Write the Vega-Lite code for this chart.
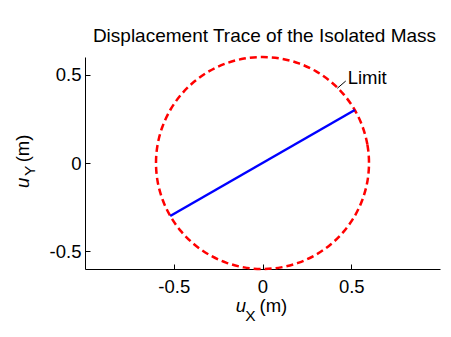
{
  "$schema": "https://vega.github.io/schema/vega-lite/v6.json",
  "width": 355,
  "height": 212,
  "autosize": {"type": "none"},
  "padding": {"left": 85, "top": 57, "right": 11, "bottom": 68},
  "title": {"text": "Displacement Trace of the Isolated Mass", "fontSize": 19, "font": "Liberation Sans", "fontWeight": "normal", "color": "black", "anchor": "middle", "baseline": "alphabetic", "offset": -9, "dx": 2},
  "config": {
    "view": {"stroke": null},
    "font": "Liberation Sans",
    "axis": {"grid": false, "domainColor": "black", "domainWidth": 1, "tickColor": "black", "tickWidth": 1, "tickSize": -5, "labelFontSize": 18.5, "labelColor": "black", "labelFont": "Liberation Sans"},
    "axisX": {"labelPadding": 13},
    "axisY": {"labelPadding": 9},
    "text": {"font": "Liberation Sans", "color": "black"}
  },
  "datasets": {
    "circle": [
      {"angle": 0, "ux": 0.6, "uy": 0},
      {"angle": 10, "ux": 0.5909, "uy": 0.1042},
      {"angle": 20, "ux": 0.5638, "uy": 0.2052},
      {"angle": 30, "ux": 0.5196, "uy": 0.3},
      {"angle": 40, "ux": 0.4596, "uy": 0.3857},
      {"angle": 50, "ux": 0.3857, "uy": 0.4596},
      {"angle": 60, "ux": 0.3, "uy": 0.5196},
      {"angle": 70, "ux": 0.2052, "uy": 0.5638},
      {"angle": 80, "ux": 0.1042, "uy": 0.5909},
      {"angle": 90, "ux": 0, "uy": 0.6},
      {"angle": 100, "ux": -0.1042, "uy": 0.5909},
      {"angle": 110, "ux": -0.2052, "uy": 0.5638},
      {"angle": 120, "ux": -0.3, "uy": 0.5196},
      {"angle": 130, "ux": -0.3857, "uy": 0.4596},
      {"angle": 140, "ux": -0.4596, "uy": 0.3857},
      {"angle": 150, "ux": -0.5196, "uy": 0.3},
      {"angle": 160, "ux": -0.5638, "uy": 0.2052},
      {"angle": 170, "ux": -0.5909, "uy": 0.1042},
      {"angle": 180, "ux": -0.6, "uy": 0},
      {"angle": 190, "ux": -0.5909, "uy": -0.1042},
      {"angle": 200, "ux": -0.5638, "uy": -0.2052},
      {"angle": 210, "ux": -0.5196, "uy": -0.3},
      {"angle": 220, "ux": -0.4596, "uy": -0.3857},
      {"angle": 230, "ux": -0.3857, "uy": -0.4596},
      {"angle": 240, "ux": -0.3, "uy": -0.5196},
      {"angle": 250, "ux": -0.2052, "uy": -0.5638},
      {"angle": 260, "ux": -0.1042, "uy": -0.5909},
      {"angle": 270, "ux": 0, "uy": -0.6},
      {"angle": 280, "ux": 0.1042, "uy": -0.5909},
      {"angle": 290, "ux": 0.2052, "uy": -0.5638},
      {"angle": 300, "ux": 0.3, "uy": -0.5196},
      {"angle": 310, "ux": 0.3857, "uy": -0.4596},
      {"angle": 320, "ux": 0.4596, "uy": -0.3857},
      {"angle": 330, "ux": 0.5196, "uy": -0.3},
      {"angle": 340, "ux": 0.5638, "uy": -0.2052},
      {"angle": 350, "ux": 0.5909, "uy": -0.1042}
    ],
    "trace": [
      {"step": 0, "ux": -0.52, "uy": -0.3},
      {"step": 1, "ux": 0.52, "uy": 0.3}
    ],
    "pointer": [
      {"ux": 0.4215, "uy": 0.423, "ux2": 0.469, "uy2": 0.464}
    ],
    "notes": [
      {"label": "Limit", "ux": 0.48, "uy": 0.445}
    ],
    "titles": [
      {"part": "xu", "label": "u", "ux": -0.122, "uy": -0.6},
      {"part": "xsub", "label": "X", "ux": -0.0676, "uy": -0.6},
      {"part": "xunit", "label": "(m)", "ux": 0.061, "uy": -0.6},
      {"part": "yu", "label": "u", "ux": -1, "uy": -0.113},
      {"part": "ysub", "label": "Y", "ux": -1, "uy": -0.045},
      {"part": "yunit", "label": "(m)", "ux": -1, "uy": 0.082}
    ]
  },
  "layer": [
    {
      "data": {"name": "circle"},
      "mark": {"type": "line", "color": "#ff0000", "strokeWidth": 2.5, "strokeDash": [7, 4], "interpolate": "cardinal-closed"},
      "encoding": {
        "x": {"field": "ux", "type": "quantitative", "title": null, "scale": {"domain": [-1, 1], "nice": false, "zero": false}, "axis": {"values": [-0.5, 0, 0.5], "labelExpr": "'' + datum.value"}},
        "y": {"field": "uy", "type": "quantitative", "title": null, "scale": {"domain": [-0.6, 0.6], "nice": false, "zero": false}, "axis": {"values": [-0.5, 0, 0.5], "labelExpr": "'' + datum.value"}},
        "order": {"field": "angle", "type": "quantitative"}
      }
    },
    {
      "data": {"name": "trace"},
      "mark": {"type": "line", "color": "#0000ff", "strokeWidth": 2.5},
      "encoding": {
        "x": {"field": "ux", "type": "quantitative", "title": null},
        "y": {"field": "uy", "type": "quantitative", "title": null},
        "order": {"field": "step", "type": "quantitative"}
      }
    },
    {
      "data": {"name": "pointer"},
      "mark": {"type": "rule", "color": "black", "strokeWidth": 1},
      "encoding": {
        "x": {"field": "ux", "type": "quantitative", "title": null},
        "y": {"field": "uy", "type": "quantitative", "title": null},
        "x2": {"field": "ux2"},
        "y2": {"field": "uy2"}
      }
    },
    {
      "data": {"name": "notes"},
      "mark": {"type": "text", "align": "left", "baseline": "alphabetic", "fontSize": 18.5},
      "encoding": {
        "x": {"field": "ux", "type": "quantitative", "title": null},
        "y": {"field": "uy", "type": "quantitative", "title": null},
        "text": {"field": "label"}
      }
    },
    {
      "data": {"name": "titles"},
      "transform": [{"filter": "datum.part == 'xu'"}],
      "mark": {"type": "text", "align": "center", "baseline": "alphabetic", "fontSize": 18.5, "fontStyle": "italic", "dy": 42.7},
      "encoding": {
        "x": {"field": "ux", "type": "quantitative", "title": null},
        "y": {"field": "uy", "type": "quantitative", "title": null},
        "text": {"field": "label"}
      }
    },
    {
      "data": {"name": "titles"},
      "transform": [{"filter": "datum.part == 'xsub'"}],
      "mark": {"type": "text", "align": "center", "baseline": "alphabetic", "fontSize": 15.5, "dy": 52},
      "encoding": {
        "x": {"field": "ux", "type": "quantitative", "title": null},
        "y": {"field": "uy", "type": "quantitative", "title": null},
        "text": {"field": "label"}
      }
    },
    {
      "data": {"name": "titles"},
      "transform": [{"filter": "datum.part == 'xunit'"}],
      "mark": {"type": "text", "align": "center", "baseline": "alphabetic", "fontSize": 18.5, "dy": 43},
      "encoding": {
        "x": {"field": "ux", "type": "quantitative", "title": null},
        "y": {"field": "uy", "type": "quantitative", "title": null},
        "text": {"field": "label"}
      }
    },
    {
      "data": {"name": "titles"},
      "transform": [{"filter": "datum.part == 'yu'"}],
      "mark": {"type": "text", "align": "center", "baseline": "alphabetic", "fontSize": 18.5, "fontStyle": "italic", "angle": 270, "dy": -56.5},
      "encoding": {
        "x": {"field": "ux", "type": "quantitative", "title": null},
        "y": {"field": "uy", "type": "quantitative", "title": null},
        "text": {"field": "label"}
      }
    },
    {
      "data": {"name": "titles"},
      "transform": [{"filter": "datum.part == 'ysub'"}],
      "mark": {"type": "text", "align": "center", "baseline": "alphabetic", "fontSize": 15.5, "angle": 270, "dy": -50},
      "encoding": {
        "x": {"field": "ux", "type": "quantitative", "title": null},
        "y": {"field": "uy", "type": "quantitative", "title": null},
        "text": {"field": "label"}
      }
    },
    {
      "data": {"name": "titles"},
      "transform": [{"filter": "datum.part == 'yunit'"}],
      "mark": {"type": "text", "align": "center", "baseline": "alphabetic", "fontSize": 18.5, "angle": 270, "dy": -56.5},
      "encoding": {
        "x": {"field": "ux", "type": "quantitative", "title": null},
        "y": {"field": "uy", "type": "quantitative", "title": null},
        "text": {"field": "label"}
      }
    }
  ]
}
